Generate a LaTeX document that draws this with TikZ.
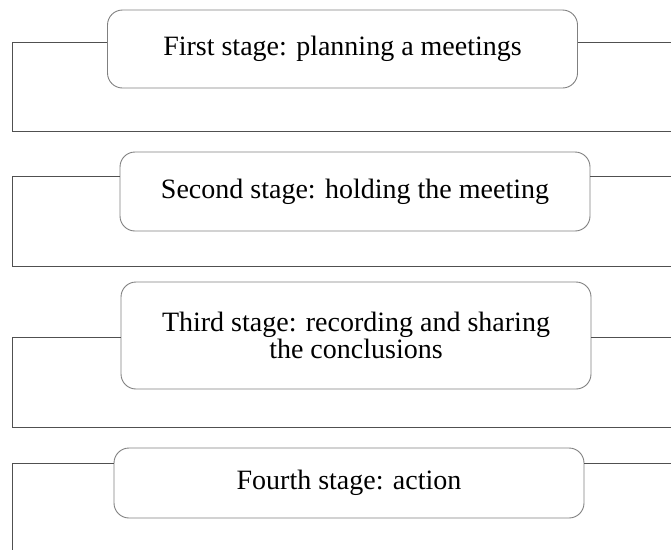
\documentclass[tikz,border=0pt]{standalone}
\usepackage{fontspec}
\setmainfont{Liberation Serif}
\begin{document}
\begin{tikzpicture}[x=1pt,y=1pt,yscale=-1,
  stage/.style={draw={rgb, 255:red, 128; green, 128; blue, 128}, line width=0.9pt,
    rounded corners=15pt, fill=white, align=center, inner sep=0pt,
    minimum width=470pt, font=\fontsize{28}{27}\selectfont},
  frame/.style={draw={rgb, 255:red, 80; green, 80; blue, 80}, line width=1pt}]

\useasboundingbox (0,0) rectangle (671,550);

% Stages
\node [stage, minimum height=78pt]  (s1) at (342.5, 49)  {First stage: planning a meetings};
\node [stage, minimum height=79pt]  (s2) at (355, 191.5) {Second stage: holding the meeting};
\node [stage, minimum height=107pt] (s3) at (356, 335.5) {Third stage: recording and sharing\\the conclusions};
\node [stage, minimum height=70pt]  (s4) at (349, 483)   {Fourth stage: action};

% Frame corners
\coordinate (f1) at (12, 42);  \coordinate (g1) at (671,131);
\coordinate (f2) at (12,176);  \coordinate (g2) at (671,266);
\coordinate (f3) at (12,337);  \coordinate (g3) at (671,427);
\coordinate (f4) at (12,463);  \coordinate (g4) at (671,550);

% Frames
\draw [frame] (s1.west |- f1) -- (f1) -- (f1 |- g1) -- (g1);
\draw [frame] (s1.east |- f1) -- (f1 -| g1);
\draw [frame] (s2.west |- f2) -- (f2) -- (f2 |- g2) -- (g2);
\draw [frame] (s2.east |- f2) -- (f2 -| g2);
\draw [frame] (s3.west |- f3) -- (f3) -- (f3 |- g3) -- (g3);
\draw [frame] (s3.east |- f3) -- (f3 -| g3);
\draw [frame] (s4.west |- f4) -- (f4) -- (f4 |- g4);
\draw [frame] (s4.east |- f4) -- (f4 -| g4);

\end{tikzpicture}
\end{document}
